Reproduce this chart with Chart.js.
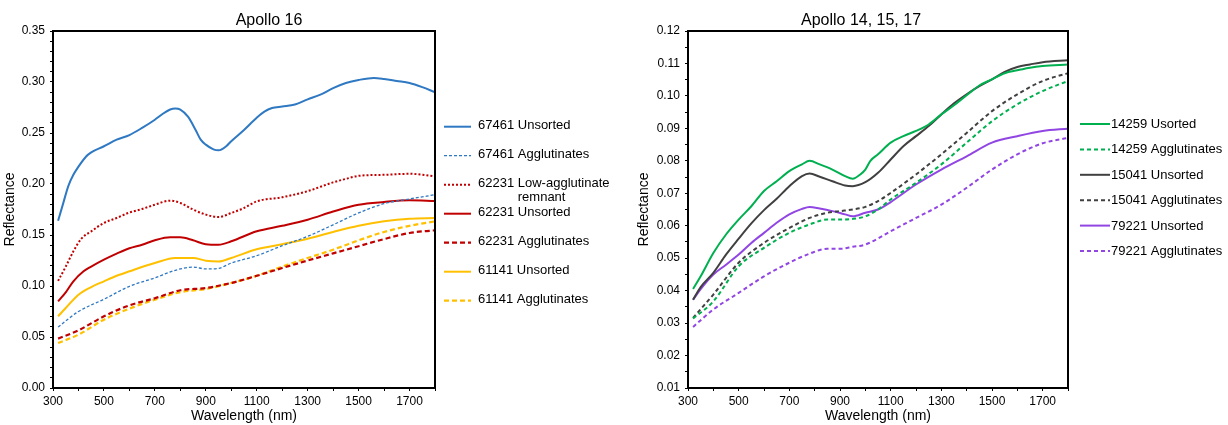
<!DOCTYPE html>
<html><head><meta charset="utf-8">
<script src="https://cdn.jsdelivr.net/npm/chart.js@4.4.1/dist/chart.umd.min.js"></script>
<style>
html,body{margin:0;padding:0;background:#fff;width:1228px;height:425px;overflow:hidden}
canvas{position:absolute;top:0}
#c1{left:0}
#c2{left:634px}
</style></head>
<body>
<canvas id="c1" width="634" height="425"></canvas>
<canvas id="c2" width="594" height="425"></canvas>
<script>
// ---------- Apollo 16 ----------
const wl_67461_uns = [320,340,360,380,400,430,450,500,550,600,650,700,730,760,780,800,830,860,880,900,930,950,980,1000,1050,1100,1130,1160,1200,1250,1300,1350,1400,1450,1500,1560,1600,1650,1700,1750,1800];
const r_67461_uns  = [0.164,0.181,0.198,0.209,0.217,0.227,0.231,0.237,0.2435,0.248,0.255,0.263,0.2686,0.273,0.274,0.273,0.266,0.253,0.2435,0.2386,0.234,0.233,0.237,0.242,0.253,0.265,0.271,0.2745,0.276,0.278,0.283,0.2876,0.294,0.299,0.302,0.304,0.303,0.301,0.299,0.295,0.290];
const wl_67461_agg = [320,400,500,600,700,780,850,900,950,1000,1100,1200,1300,1400,1500,1600,1700,1800];
const r_67461_agg  = [0.0598,0.075,0.087,0.0997,0.108,0.1154,0.1186,0.1167,0.1173,0.1225,0.1297,0.1395,0.1487,0.160,0.1716,0.1807,0.1853,0.1895];
const wl_62231_low = [320,350,380,410,450,500,550,600,650,700,760,800,850,900,950,1000,1050,1100,1200,1300,1400,1450,1500,1600,1700,1800];
const r_62231_low  = [0.105,0.119,0.134,0.146,0.1536,0.1618,0.1667,0.172,0.1755,0.1797,0.1837,0.1814,0.175,0.170,0.1676,0.1716,0.1765,0.183,0.187,0.193,0.2016,0.205,0.208,0.209,0.210,0.2075];
const wl_62231_uns = [320,350,380,420,450,500,550,600,650,700,760,800,850,900,950,1000,1100,1200,1300,1400,1500,1600,1700,1800];
const r_62231_uns  = [0.085,0.0938,0.1046,0.1144,0.119,0.1258,0.1317,0.137,0.1405,0.1448,0.1477,0.1477,0.1448,0.141,0.1405,0.1438,0.1536,0.159,0.165,0.173,0.1797,0.1824,0.184,0.1833];
const wl_62231_agg = [320,400,500,600,700,800,900,1000,1100,1200,1300,1400,1500,1600,1700,1800];
const r_62231_agg  = [0.0484,0.0565,0.0703,0.081,0.088,0.0958,0.098,0.103,0.110,0.1176,0.125,0.132,0.139,0.146,0.152,0.1546];
const wl_61141_uns = [320,350,400,450,500,550,600,700,780,850,900,950,1000,1100,1200,1300,1400,1500,1600,1700,1800];
const r_61141_uns  = [0.0703,0.0784,0.0915,0.099,0.1046,0.110,0.1144,0.1225,0.1275,0.1275,0.1248,0.124,0.1275,0.136,0.141,0.1464,0.153,0.159,0.1634,0.166,0.1667];
const wl_61141_agg = [320,400,500,600,700,800,900,1000,1100,1200,1300,1400,1500,1600,1700,1800];
const r_61141_agg  = [0.0441,0.0523,0.067,0.0778,0.0866,0.094,0.097,0.103,0.110,0.119,0.1275,0.1356,0.1448,0.153,0.159,0.1634];
const labels16 = [['67461 Unsorted'],['67461 Agglutinates'],['62231 Low-agglutinate','remnant'],['62231 Unsorted'],['62231 Agglutinates'],['61141 Unsorted'],['61141 Agglutinates']];

// ---------- Apollo 14, 15, 17 ----------
const wl_14259_uns = [320,350,400,450,500,550,600,650,700,750,780,820,870,920,950,980,1000,1020,1050,1100,1150,1200,1250,1300,1350,1400,1450,1500,1550,1600,1650,1700,1800];
const r_14259_uns  = [0.0405,0.0444,0.0516,0.0573,0.0619,0.066,0.0707,0.0737,0.0768,0.0789,0.080,0.0789,0.0773,0.0753,0.0745,0.0758,0.0773,0.080,0.082,0.0856,0.0876,0.0892,0.0912,0.0943,0.0971,0.1002,0.1032,0.1051,0.107,0.1079,0.1087,0.1092,0.1097];
const wl_15041_uns = [320,350,400,450,500,550,600,650,700,750,780,820,870,920,950,1000,1050,1100,1150,1200,1250,1300,1350,1400,1450,1500,1550,1600,1650,1700,1800];
const r_15041_uns  = [0.0372,0.0411,0.0455,0.0511,0.056,0.0607,0.0648,0.0683,0.0722,0.0753,0.0761,0.0751,0.0737,0.0724,0.0722,0.0734,0.0763,0.0804,0.0845,0.0876,0.0907,0.0943,0.0977,0.1005,0.103,0.1051,0.1074,0.1089,0.1097,0.1104,0.111];
const wl_agg_1415  = [320,400,500,600,700,780,850,900,950,1000,1050,1100,1200,1300,1400,1500,1600,1700,1800];
const r_14259_agg  = [0.0314,0.0367,0.0475,0.0532,0.0578,0.0604,0.0619,0.0619,0.0621,0.0629,0.065,0.0681,0.0732,0.0789,0.0856,0.0922,0.0974,0.1015,0.1046];
const r_15041_agg  = [0.0316,0.0388,0.0486,0.0547,0.0593,0.0624,0.064,0.0645,0.065,0.0658,0.0676,0.0701,0.0758,0.082,0.0886,0.0953,0.1005,0.1046,0.107];
const wl_79221_uns = [320,350,400,450,500,550,600,650,700,750,780,820,870,920,950,1000,1050,1100,1200,1300,1400,1500,1600,1700,1800];
const r_79221_uns  = [0.0372,0.0405,0.045,0.048,0.0511,0.0547,0.0578,0.0609,0.0635,0.0652,0.0658,0.0653,0.0645,0.0635,0.0629,0.064,0.065,0.0673,0.0727,0.0773,0.0814,0.0856,0.0876,0.0892,0.0899];
const wl_79221_agg = [320,400,500,600,700,780,850,900,950,1000,1100,1200,1300,1400,1500,1600,1700,1800];
const r_79221_agg  = [0.0288,0.0342,0.0393,0.0444,0.0486,0.0514,0.0529,0.0529,0.0535,0.0542,0.0583,0.0624,0.0665,0.0717,0.0773,0.082,0.0854,0.0871];
const labels141517 = [['14259 Usorted'],['14259 Agglutinates'],['15041 Unsorted'],['15041 Agglutinates'],['79221 Unsorted'],['79221 Agglutinates']];

const FONT = "'Liberation Sans', Arial, Helvetica, sans-serif";
Chart.defaults.font.family = FONT;
Chart.defaults.font.size = 12;
Chart.defaults.color = '#000';

const pts = (wl, r) => wl.map((x, i) => ({x: x, y: r[i]}));
function ds(label, wl, r, color, width, dash) {
  return {label: label.join(' '), legendLines: label, data: pts(wl, r), borderColor: color,
    backgroundColor: color, borderWidth: width, borderDash: dash || [], pointRadius: 0,
    cubicInterpolationMode: 'monotone', fill: false};
}

const decor = {
  id: 'decor',
  afterDraw(chart, args, o) {
    const ctx = chart.ctx, a = chart.chartArea;
    ctx.save();
    ctx.strokeStyle = '#000'; ctx.lineWidth = 2; ctx.setLineDash([]);
    ctx.beginPath();
    ctx.moveTo(a.left, a.top); ctx.lineTo(a.right, a.top); ctx.lineTo(a.right, a.bottom);
    ctx.stroke();
    // title
    ctx.fillStyle = '#000';
    ctx.font = '16px ' + FONT;
    ctx.textAlign = 'center'; ctx.textBaseline = 'alphabetic';
    ctx.fillText(o.title, o.titleX, o.titleY);
    // legend
    ctx.font = '13px ' + FONT;
    ctx.textAlign = 'left';
    chart.data.datasets.forEach((d, i) => {
      const base = o.y0 + i * o.dy;
      const ly = base + o.lineOff;
      ctx.strokeStyle = d.borderColor; ctx.lineWidth = d.borderWidth;
      ctx.setLineDash(d.borderDash);
      ctx.beginPath(); ctx.moveTo(o.x1, ly); ctx.lineTo(o.x2, ly); ctx.stroke();
      ctx.setLineDash([]);
      ctx.fillText(d.legendLines[0], o.tx, base);
      if (d.legendLines.length > 1) {
        const ind = ctx.measureText(d.legendLines[0].split(' ')[0] + ' ').width;
        ctx.fillText(d.legendLines[1], o.tx + ind, base + 14);
      }
    });
    ctx.restore();
  }
};

function makeChart(id, datasets, yMin, yMax, yStep, yMajor, yWidth, padRight, deco) {
  return new Chart(document.getElementById(id), {
    type: 'line',
    data: {datasets: datasets},
    options: {
      responsive: false, animation: false,
      layout: {padding: {left: 0, right: padRight, top: 31, bottom: 0}},
      plugins: {legend: {display: false}, tooltip: {enabled: false}, title: {display: false}, decor: deco},
      scales: {
        x: {
          type: 'linear', min: 300, max: 1800,
          border: {display: true, color: '#000', width: 2},
          grid: {display: true, drawOnChartArea: false, drawTicks: true, tickLength: 3, color: '#000', lineWidth: 1},
          ticks: {stepSize: 100, autoSkip: false, maxRotation: 0, padding: 3, font: {size: 12},
            callback: v => ((Math.round(v) - 300) % 200 === 0 ? String(Math.round(v)) : '')},
          title: {display: true, text: 'Wavelength (nm)', font: {size: 14}, padding: {top: 0, bottom: 0}},
          afterFit: s => { s.height = 37; }
        },
        y: {
          type: 'linear', min: yMin, max: yMax,
          border: {display: true, color: '#000', width: 2},
          grid: {display: true, drawOnChartArea: false, drawTicks: true, tickLength: 3, color: '#000', lineWidth: 1},
          ticks: {stepSize: yStep, autoSkip: false, padding: 5, font: {size: 12},
            callback: v => (Math.round(v * 1000) % Math.round(yMajor * 1000) === 0 ? v.toFixed(2) : '')},
          title: {display: true, text: 'Reflectance', font: {size: 14}, padding: {top: 2, bottom: 0}},
          afterFit: s => { s.width = yWidth; }
        }
      }
    },
    plugins: [decor]
  });
}

const BLUE = '#2F78C2', RED = '#C00000', YEL = '#FFC000', GRN = '#00B050', GRY = '#404040', PUR = '#9146E3';

makeChart('c1', [
  ds(labels16[0], wl_67461_uns, r_67461_uns, BLUE, 2),
  ds(labels16[1], wl_67461_agg, r_67461_agg, BLUE, 1.3, [3, 2]),
  ds(labels16[2], wl_62231_low, r_62231_low, RED, 2, [2, 2]),
  ds(labels16[3], wl_62231_uns, r_62231_uns, RED, 2),
  ds(labels16[4], wl_62231_agg, r_62231_agg, RED, 2.2, [5, 3]),
  ds(labels16[5], wl_61141_uns, r_61141_uns, YEL, 2),
  ds(labels16[6], wl_61141_agg, r_61141_agg, YEL, 2.2, [5, 3])
], 0, 0.35, 0.01, 0.05, 53, 199,
  {title: 'Apollo 16', titleX: 269, titleY: 25, x1: 444, x2: 471, tx: 478, y0: 129.3, dy: 29, lineOff: -2.6});

makeChart('c2', [
  ds(labels141517[0], wl_14259_uns, r_14259_uns, GRN, 2),
  ds(labels141517[1], wl_agg_1415, r_14259_agg, GRN, 2, [4, 3]),
  ds(labels141517[2], wl_15041_uns, r_15041_uns, GRY, 2),
  ds(labels141517[3], wl_agg_1415, r_15041_agg, GRY, 2, [4, 3]),
  ds(labels141517[4], wl_79221_uns, r_79221_uns, PUR, 2),
  ds(labels141517[5], wl_79221_agg, r_79221_agg, PUR, 2, [4, 3])
], 0.01, 0.12, 0.005, 0.01, 54, 160,
  {title: 'Apollo 14, 15, 17', titleX: 227, titleY: 25, x1: 446, x2: 476, tx: 477, y0: 128, dy: 25.4, lineOff: -4});
</script>
</body></html>
